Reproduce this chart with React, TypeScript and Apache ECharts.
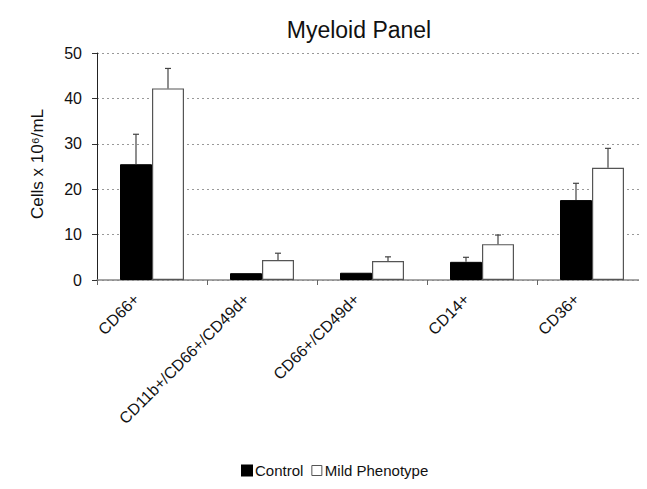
import React, { useEffect, useRef } from "react";
import * as echarts from "echarts";

const categories = ["CD66+", "CD11b+/CD66+/CD49d+", "CD66+/CD49d+", "CD14+", "CD36+"];
const controlValues = [25.5, 1.5, 1.6, 4.0, 17.6];
const controlErrTop = [32.1, 1.5, 1.6, 5.0, 21.3];
const mildValues = [42.2, 4.4, 4.2, 7.9, 24.7];
const mildErrTop = [46.6, 5.9, 5.1, 9.9, 29.0];
const yTicks = [0, 10, 20, 30, 40, 50];

export default function App() {
  const ref = useRef<HTMLDivElement>(null);
  useEffect(() => {
    if (!ref.current) return;
    const chart = echarts.init(ref.current, null, { renderer: "svg" });
    const font = "Liberation Sans, Arial, sans-serif";
    const errSeries = (vals: number[], tops: number[], offset: number) => ({
      type: "custom",
      silent: true,
      z: 5,
      data: vals.map((v, i) => [i, v, tops[i]]),
      renderItem: (params: any, api: any) => {
        const i = api.value(0);
        const b = api.coord([i, api.value(1)]);
        const t = api.coord([i, api.value(2)]);
        const x = b[0] + offset;
        if (Math.abs(b[1] - t[1]) < 1) return { type: "group", children: [] };
        return {
          type: "group",
          children: [
            { type: "line", shape: { x1: x, y1: b[1], x2: x, y2: t[1] }, style: { stroke: "#444", lineWidth: 1.2 } },
            { type: "line", shape: { x1: x - 3, y1: t[1], x2: x + 3, y2: t[1] }, style: { stroke: "#444", lineWidth: 1.2 } },
          ],
        };
      },
    });
    chart.setOption({
      animation: false,
      backgroundColor: "#fff",
      title: {
        text: "Myeloid Panel",
        left: 346,
        top: 5,
        textAlign: "center",
        textStyle: { fontFamily: font, fontSize: 23, fontWeight: "normal", color: "#111" },
      },
      legend: {
        left: 233,
        top: 455,
        padding: 0,
        itemWidth: 10,
        itemHeight: 10,
        itemGap: 8,
        textStyle: { fontFamily: font, fontSize: 15, color: "#111", padding: [0, 0, 0, -2] },
        data: [
          { name: "Control", icon: "rect", itemStyle: { color: "#000", borderColor: "#000" } },
          { name: "Mild Phenotype", icon: "rect", itemStyle: { color: "#fff", borderColor: "#555", borderWidth: 1 } },
        ],
      },
      grid: { left: 89, top: 45, width: 561, height: 227 },
      xAxis: {
        type: "category",
        data: categories,
        axisLine: { lineStyle: { color: "#888", width: 1.5 } },
        axisTick: { show: true, alignWithLabel: false, length: 5, lineStyle: { color: "#666" } },
        axisLabel: {
          rotate: 45,
          fontFamily: font,
          fontSize: 16,
          color: "#111",
          margin: 1,
          padding: [0, 22, 0, 0],
          interval: 0,
        },
      },
      yAxis: {
        type: "value",
        min: 0,
        max: 50,
        interval: 10,
        name: "Cells x 10⁶/mL",
        nameLocation: "middle",
        nameGap: 51,
        nameTextStyle: { fontFamily: font, fontSize: 17, color: "#111", padding: [0, 0, 0, 5] },
        axisLine: { show: true, lineStyle: { color: "#222", width: 1 } },
        axisTick: { show: true, length: 5, lineStyle: { color: "#333" } },
        axisLabel: {
          fontFamily: font,
          fontSize: 16,
          color: "#111",
          margin: 15,
          formatter: (v: number) => (yTicks.includes(v) ? String(v) : ""),
        },
        splitLine: { show: true, lineStyle: { color: "#999", type: [2, 3], width: 1 } },
      },
      series: [
        {
          name: "Control",
          type: "bar",
          data: controlValues,
          barWidth: 32,
          barGap: "0%",
          itemStyle: { color: "#000", borderColor: "#000", borderWidth: 1 },
        },
        {
          name: "Mild Phenotype",
          type: "bar",
          data: mildValues,
          barWidth: 32,
          itemStyle: { color: "#fff", borderColor: "#555", borderWidth: 1.2 },
        },
        errSeries(controlValues, controlErrTop, -16),
        errSeries(mildValues, mildErrTop, 16),
      ],
    });
    return () => chart.dispose();
  }, []);
  return <div ref={ref} style={{ width: 639, height: 481 }} />;
}
